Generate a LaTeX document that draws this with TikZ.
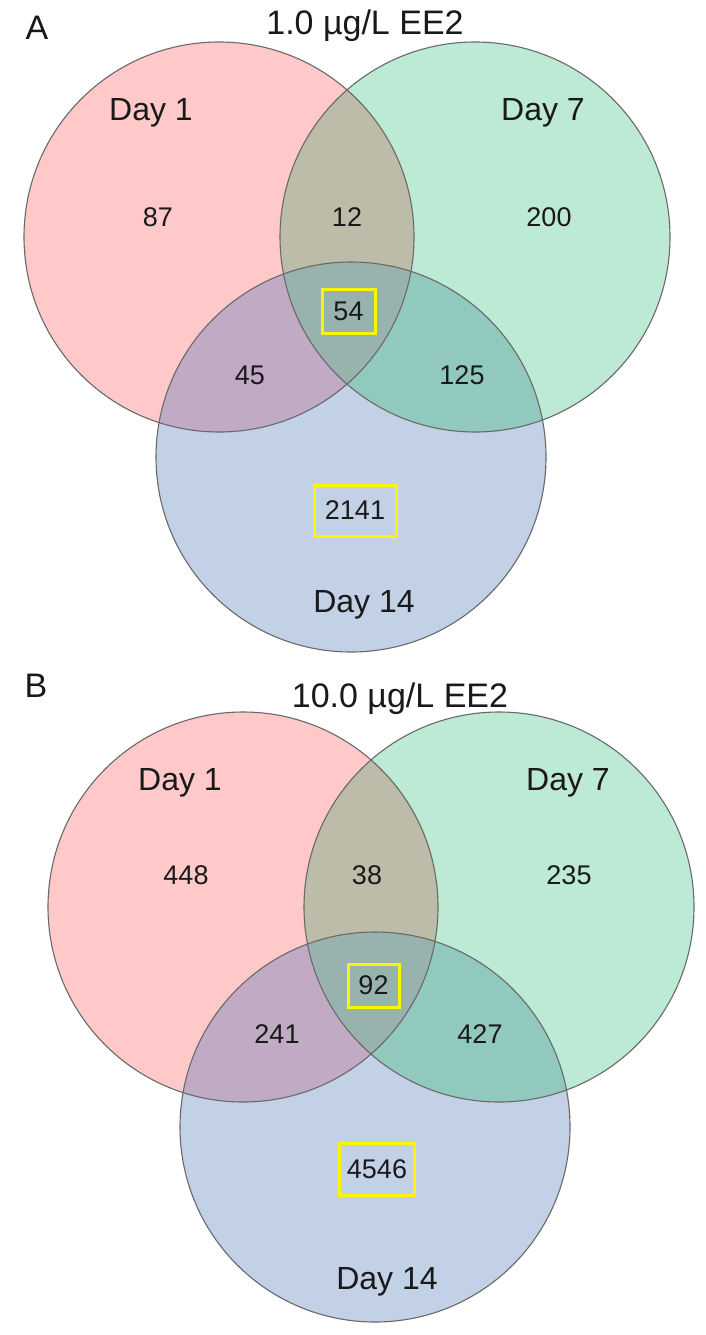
\documentclass[tikz,border=0pt]{standalone}
\usepackage{fontspec}
\setmainfont{Liberation Sans}
\definecolor{cpink}{RGB}{255,201,202}
\definecolor{cgreen}{RGB}{188,234,212}
\definecolor{cblue}{RGB}{194,209,230}
\definecolor{cpg}{RGB}{189,188,168}
\definecolor{cpb}{RGB}{192,170,196}
\definecolor{cgb}{RGB}{146,201,191}
\definecolor{cpgb}{RGB}{152,179,173}
\definecolor{cline}{RGB}{105,105,105}
\definecolor{cyel}{RGB}{250,245,0}
\definecolor{ctext}{RGB}{25,25,25}
\newcommand{\vennthree}[2]{%
 \begin{scope}[shift={(#1,#2)}]
  \fill[cpink] (219,237) circle[radius=195pt];
  \fill[cgreen] (475,237) circle[radius=195pt];
  \fill[cblue] (351,457) circle[radius=195pt];
  \begin{scope}
   \clip (219,237) circle[radius=195pt];
   \fill[cpg] (475,237) circle[radius=195pt];
   \fill[cpb] (351,457) circle[radius=195pt];
  \end{scope}
  \begin{scope}
   \clip (475,237) circle[radius=195pt];
   \fill[cgb] (351,457) circle[radius=195pt];
   \clip (219,237) circle[radius=195pt];
   \fill[cpgb] (351,457) circle[radius=195pt];
  \end{scope}
  \draw[ring] (219,237) circle[radius=195pt];
  \draw[ring] (475,237) circle[radius=195pt];
  \draw[ring] (351,457) circle[radius=195pt];
 \end{scope}}
\begin{document}
\begin{tikzpicture}[x=1pt,y=-1pt,
  ring/.style={draw=cline,line width=1.1pt},
  num/.style={text=ctext,font=\fontsize{27}{27}\selectfont,inner sep=0pt},
  daylab/.style={text=ctext,font=\fontsize{32}{32}\selectfont,inner sep=0pt},
  ttl/.style={text=ctext,font=\fontsize{34}{34}\selectfont,inner sep=0pt},
  hl/.style={num,draw=cyel,line width=3pt,inner sep=0pt}]
\useasboundingbox (0,0) rectangle (706,1335);
\fill[white] (0,0) rectangle (706,1335);
% Panel A
\vennthree{0}{0}
\node[ttl] (pA) at (37,28) {A};
\node[ttl] (tA) at (365,26) {1.0 µg/L EE2};
\node[daylab] (d1A) at (151,113) {Day 1};
\node[daylab] (d7A) at (543,113) {Day 7};
\node[daylab] (d14A) at (364,605) {Day 14};
\node[num] (n87) at (158,217) {87};
\node[num] (n12) at (347,217) {12};
\node[num] (n200) at (549,217) {200};
\node[hl,minimum width=53pt,minimum height=44pt] (n54) at (348.5,311) {54};
\node[num] (n45) at (250,375) {45};
\node[num] (n125) at (462,375) {125};
\node[hl,minimum width=82pt,minimum height=51pt] (n2141) at (355,510.5) {2141};
% Panel B
\vennthree{24}{670}
\node[ttl] (pB) at (36,686) {B};
\node[ttl] (tB) at (400,699) {10.0 µg/L EE2};
\node[daylab] (d1B) at (180,783) {Day 1};
\node[daylab] (d7B) at (568,783) {Day 7};
\node[daylab] (d14B) at (387,1282) {Day 14};
\node[num] (n448) at (186,875) {448};
\node[num] (n38) at (367,875) {38};
\node[num] (n235) at (569,875) {235};
\node[hl,minimum width=51pt,minimum height=43pt] (n92) at (373.5,985.5) {92};
\node[num] (n241) at (277,1034) {241};
\node[num] (n427) at (480,1034) {427};
\node[hl,minimum width=75pt,minimum height=52pt] (n4546) at (377,1169) {4546};
\end{tikzpicture}
\end{document}
